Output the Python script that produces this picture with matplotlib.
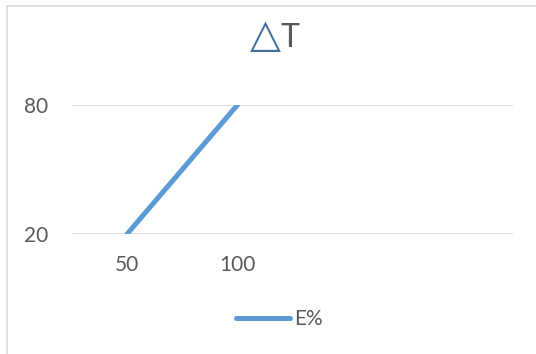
import matplotlib
matplotlib.use("Agg")
from matplotlib import pyplot as plt
from matplotlib.lines import Line2D

# Daten
kategorien = ["50", "100", "", ""]
e_prozent = [20, 80]
y_ticks = [20, 80]

W, H = 536, 354
fig = plt.figure(figsize=(W / 100, H / 100), dpi=100)

# Rahmen (links und oben sichtbar)
fig.add_artist(Line2D([7 / W, 7 / W], [0, 1 - 6 / H], color="#d9d9d9", lw=1.2))
fig.add_artist(Line2D([7 / W, 1], [1 - 6 / H, 1 - 6 / H], color="#d9d9d9", lw=1.2))

ax = fig.add_axes([72 / W, 1 - 234 / H, (513 - 72) / W, (234 - 105) / H])
pos = list(range(1, len(kategorien) + 1))
ax.plot(pos[:len(e_prozent)], e_prozent, color="#5b9bd5", lw=3.6,
        solid_capstyle="round", label="E%", zorder=3)

ax.set_xlim(0.5, len(kategorien) + 0.5)
ax.set_ylim(min(y_ticks), max(y_ticks))
ax.set_yticks(y_ticks)
ax.set_xticks(pos)
ax.set_xticklabels(kategorien)
ax.yaxis.grid(True, color="#d9d9d9", lw=1.2)
ax.set_axisbelow(True)
for s in ax.spines.values():
    s.set_visible(False)
ax.tick_params(length=0, labelsize=15, colors="#595959")
ax.tick_params(axis="y", pad=17)
ax.tick_params(axis="x", pad=15)
for t in ax.get_xticklabels() + ax.get_yticklabels():
    t.set_fontfamily("Lato")

# Titel
fig.text(265 / W, 1 - 47 / H, "△", fontsize=29, color="#41719c",
         ha="center", va="baseline", family="DejaVu Sans")
fig.text(290 / W, 1 - 47 / H, "T", fontsize=23, color="#595959",
         ha="center", va="baseline", family="Lato")

fig.legend(loc="center", bbox_to_anchor=(279 / W, 1 - 319 / H), frameon=False,
           prop={"family": "Lato", "size": 15}, labelcolor="#595959",
           handlelength=2.6, handletextpad=0.2)

fig.savefig("out.png", dpi=100)
